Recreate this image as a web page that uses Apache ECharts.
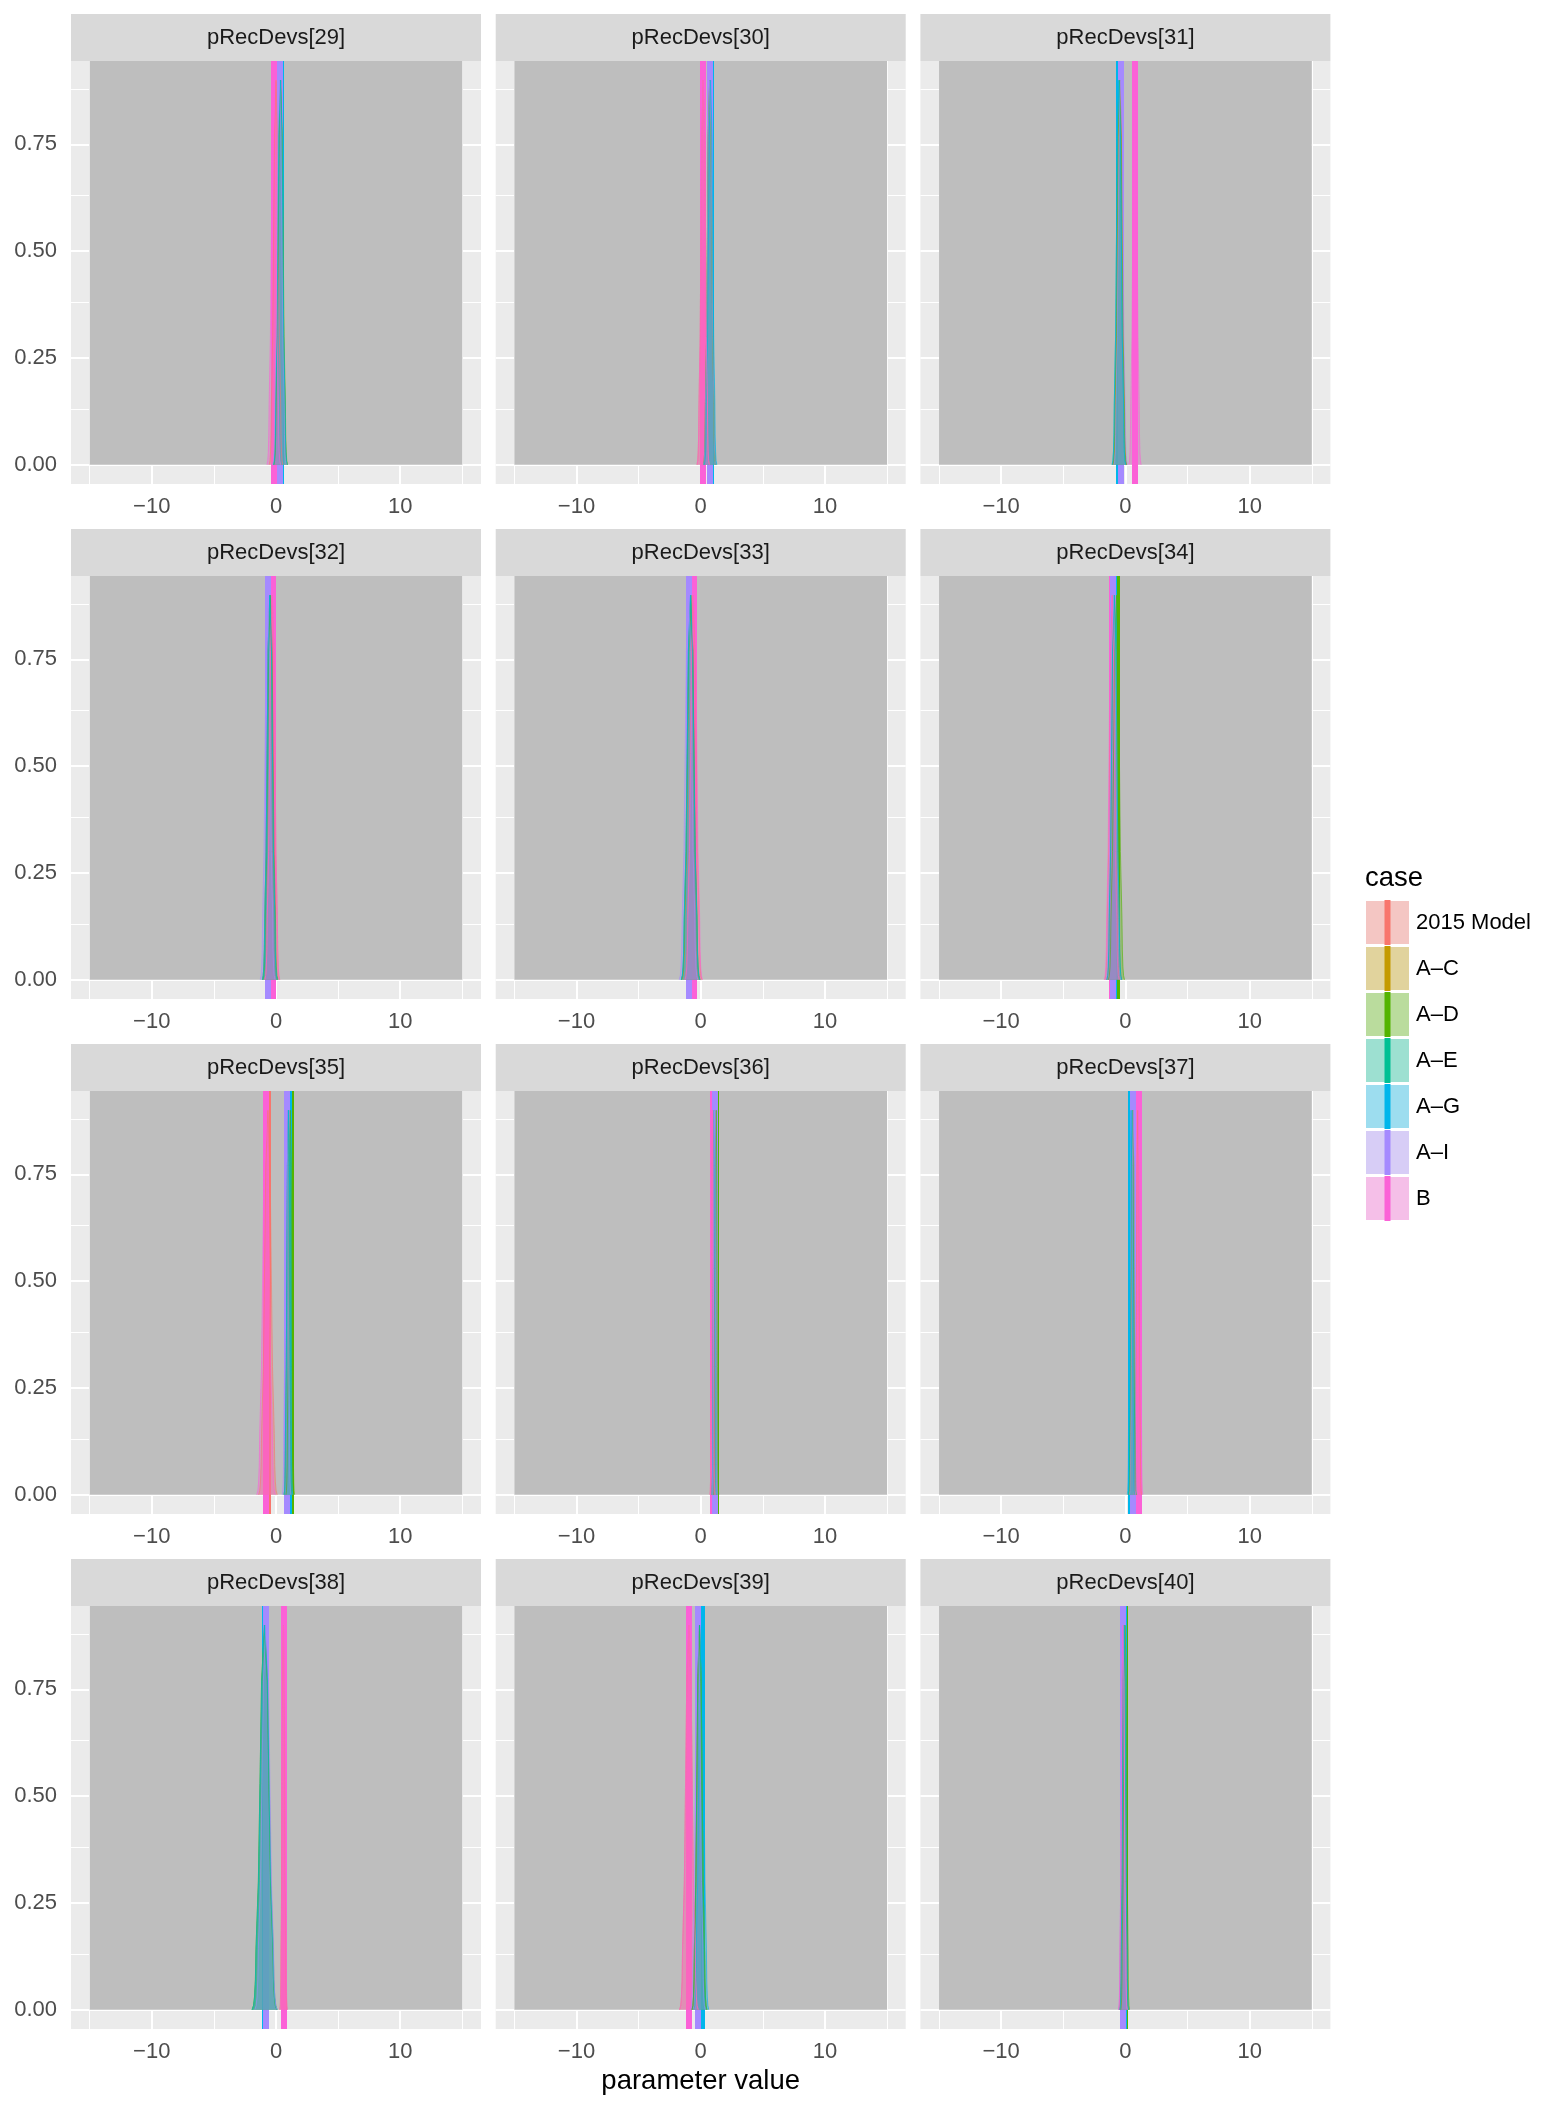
<!DOCTYPE html>
<html><head><meta charset="utf-8">
<script src="https://cdn.jsdelivr.net/npm/echarts@6/dist/echarts.min.js"></script>
<style>html,body{margin:0;padding:0;background:#fff}#c{width:1546px;height:2101px}</style>
</head><body><div id="c"></div>
<script>
// ---------- data ----------
const cases = ['2015 Model', 'A\u2013C', 'A\u2013D', 'A\u2013E', 'A\u2013G', 'A\u2013I', 'B'];
const caseColors = ['#F8766D', '#C49A00', '#53B400', '#00C094', '#00B6EB', '#A58AFF', '#FB61D7'];
const panelTitles = ['pRecDevs[29]', 'pRecDevs[30]', 'pRecDevs[31]', 'pRecDevs[32]', 'pRecDevs[33]', 'pRecDevs[34]',
  'pRecDevs[35]', 'pRecDevs[36]', 'pRecDevs[37]', 'pRecDevs[38]', 'pRecDevs[39]', 'pRecDevs[40]'];

// vertical line (point estimate) per case: 2015 Model, A-C, A-D, A-E, A-G, A-I, B
const vl29 = [0.0, 0.35, 0.38, 0.35, 0.35, 0.28, -0.18];
const vl30 = [0.2, 0.72, 0.72, 0.74, 0.8, 0.72, 0.2];
const vl31 = [-0.45, -0.45, -0.45, -0.52, -0.52, -0.39, 0.77];
const vl32 = [-0.3, -0.5, -0.45, -0.5, -0.5, -0.67, -0.3];
const vl33 = [-0.6, -0.8, -0.8, -0.82, -0.82, -0.98, -0.56];
const vl34 = [-1.05, -0.9, -0.72, -0.9, -0.9, -0.98, -1.1];
const vl35 = [-0.65, 1.0, 1.15, 1.0, 1.0, 0.86, -0.8];
const vl36 = [0.95, 1.1, 1.25, 1.1, 1.1, 1.11, 0.95];
const vl37 = [1.0, 0.6, 0.6, 0.55, 0.45, 0.63, 1.1];
const vl38 = [0.6, -0.9, -0.93, -0.93, -0.9, -0.81, 0.62];
const vl39 = [-0.95, -0.1, -0.1, -0.1, 0.05, -0.23, -0.95];
const vl40 = [-0.18, -0.1, -0.02, -0.1, -0.1, -0.2, -0.2];

// half-width of each density at its base (parameter units)
const hw29 = [0.55, 0.55, 0.55, 0.55, 0.55, 0.55, 0.55];
const hw30 = [0.5, 0.5, 0.5, 0.5, 0.5, 0.5, 0.5];
const hw31 = [0.55, 0.55, 0.55, 0.55, 0.55, 0.55, 0.5];
const hw32 = [0.6, 0.6, 0.6, 0.6, 0.6, 0.6, 0.6];
const hw33 = [0.7, 0.7, 0.75, 0.75, 0.75, 0.75, 0.7];
const hw34 = [0.6, 0.6, 0.65, 0.6, 0.6, 0.6, 0.6];
const hw35 = [0.75, 0.35, 0.35, 0.35, 0.35, 0.35, 0.75];
const hw36 = [0.2, 0.2, 0.2, 0.2, 0.2, 0.2, 0.2];
const hw37 = [0.3, 0.3, 0.3, 0.3, 0.3, 0.3, 0.3];
const hw38 = [0.3, 1.0, 1.0, 1.0, 1.0, 0.9, 0.3];
const hw39 = [0.75, 0.6, 0.6, 0.6, 0.6, 0.6, 0.75];
const hw40 = [0.35, 0.35, 0.35, 0.35, 0.35, 0.35, 0.35];

// shape of a density spike: height vs relative half-width
const densY = [0, 0.01, 0.03, 0.07, 0.144, 0.3, 0.53, 0.77, 0.9];
const densW = [1, 0.88, 0.8, 0.73, 0.68, 0.49, 0.36, 0.23, 0];

const priorRange = [-15, 15];
const xTicks = [-10, 0, 10];
const xTickLabels = ['\u221210', '0', '10'];
const xMinor = [-15, -5, 5, 15];
const yTicks = [0, 0.25, 0.5, 0.75];
const yTickLabels = ['0.00', '0.25', '0.50', '0.75'];
const yMinor = [0.125, 0.375, 0.625, 0.875];
const xLim = [-16.5, 16.5];
const yLim = [-0.045, 0.945];
// order in which the vertical lines are stacked (A-I ends on top)
const vlineDrawOrder = [0, 1, 2, 3, 4, 6, 5];

const vlineSets = [vl29, vl30, vl31, vl32, vl33, vl34, vl35, vl36, vl37, vl38, vl39, vl40];
const widthSets = [hw29, hw30, hw31, hw32, hw33, hw34, hw35, hw36, hw37, hw38, hw39, hw40];

// ---------- layout ----------
const FONT = '"Liberation Sans", Arial, Helvetica, sans-serif';
const colLeft = [71, 495.7, 920.4];
const rowTop = [61, 576, 1091, 1606];
const PW = 410, PH = 423, STRIP = 47;

const grids = [], xAxes = [], yAxes = [], series = [], graphics = [];

panelTitles.forEach((title, i) => {
  const r = Math.floor(i / 3), c = i % 3;
  const left = colLeft[c], top = rowTop[r];
  grids.push({ left: left, top: top, width: PW, height: PH, show: true, backgroundColor: '#EBEBEB',
    borderWidth: 0, containLabel: false, outerBoundsMode: 'none' });
  xAxes.push({ type: 'value', gridIndex: i, min: xLim[0], max: xLim[1],
    axisLine: { show: false }, splitLine: { show: false },
    axisTick: { show: true, length: 7, lineStyle: { color: '#333333', width: 2 }, customValues: xTicks },
    axisLabel: { show: true, customValues: xTicks, margin: 12, color: '#4D4D4D', fontSize: 22, fontFamily: FONT,
      formatter: v => xTickLabels[xTicks.indexOf(v)] } });
  yAxes.push({ type: 'value', gridIndex: i, min: yLim[0], max: yLim[1],
    axisLine: { show: false }, splitLine: { show: false },
    axisTick: { show: c === 0, length: 7, lineStyle: { color: '#333333', width: 2 }, customValues: yTicks },
    axisLabel: { show: c === 0, customValues: yTicks, margin: 14, color: '#4D4D4D', fontSize: 22, fontFamily: FONT,
      formatter: v => yTickLabels[yTicks.indexOf(v)] } });

  // grid lines
  const gl = [];
  xMinor.forEach(v => gl.push({ xAxis: v, lineStyle: { color: '#FFFFFF', width: 1, type: 'solid' } }));
  yMinor.forEach(v => gl.push({ yAxis: v, lineStyle: { color: '#FFFFFF', width: 1, type: 'solid' } }));
  xTicks.forEach(v => gl.push({ xAxis: v, lineStyle: { color: '#FFFFFF', width: 2, type: 'solid' } }));
  yTicks.forEach(v => gl.push({ yAxis: v, lineStyle: { color: '#FFFFFF', width: 2, type: 'solid' } }));
  series.push({ type: 'line', xAxisIndex: i, yAxisIndex: i, data: [], z: 1, silent: true,
    markLine: { z: 1, silent: true, symbol: ['none', 'none'], label: { show: false }, animation: false, data: gl } });

  // prior range rectangle
  series.push({ type: 'line', xAxisIndex: i, yAxisIndex: i, z: 2, silent: true, symbol: 'none',
    data: priorRange.map(x => [x, yLim[1]]),
    lineStyle: { width: 0 }, areaStyle: { color: '#BEBEBE', opacity: 1 } });

  // vertical lines
  const vl = vlineSets[i];
  series.push({ type: 'line', xAxisIndex: i, yAxisIndex: i, data: [], z: 3, silent: true,
    markLine: { z: 3, silent: true, symbol: ['none', 'none'], label: { show: false }, animation: false,
      data: vlineDrawOrder.map(k => ({ xAxis: vl[k], lineStyle: { color: caseColors[k], width: 6, type: 'solid', opacity: 1 } })) } });

  // densities
  const hw = widthSets[i];
  cases.forEach((name, k) => {
    const cx = vl[k], w = hw[k];
    const pts = [];
    for (let j = 0; j < densY.length; j++) pts.push([cx - w * densW[j], densY[j]]);
    for (let j = densY.length - 2; j >= 0; j--) pts.push([cx + w * densW[j], densY[j]]);
    series.push({ type: 'line', name: name, xAxisIndex: i, yAxisIndex: i, z: 4, silent: true, symbol: 'none',
      data: pts, lineStyle: { width: 1, color: caseColors[k], opacity: 0.6 },
      areaStyle: { color: caseColors[k], opacity: 0.33 } });
  });

  // strip
  graphics.push({ type: 'rect', shape: { x: left, y: top - STRIP, width: PW, height: STRIP },
    style: { fill: '#D9D9D9' }, silent: true });
  graphics.push({ type: 'text', x: left + PW / 2, y: top - STRIP / 2,
    style: { text: title, fill: '#1A1A1A', font: '22px ' + FONT, textAlign: 'center', textVerticalAlign: 'middle' }, silent: true });
});

// axis title
graphics.push({ type: 'text', x: 700.7, y: 2081,
  style: { text: 'parameter value', fill: '#000000', font: '27.5px ' + FONT, textAlign: 'center', textVerticalAlign: 'middle' } });

// legend
graphics.push({ type: 'text', x: 1365, y: 878,
  style: { text: 'case', fill: '#000000', font: '27.5px ' + FONT, textAlign: 'left', textVerticalAlign: 'middle' } });
cases.forEach((name, k) => {
  const ky = 901 + k * 46;
  graphics.push({ type: 'rect', shape: { x: 1366, y: ky, width: 43, height: 43 }, style: { fill: '#F2F2F2' } });
  graphics.push({ type: 'rect', shape: { x: 1366, y: ky, width: 43, height: 43 }, style: { fill: caseColors[k], opacity: 0.35 } });
  graphics.push({ type: 'rect', shape: { x: 1384.5, y: ky - 1, width: 6, height: 45 }, style: { fill: caseColors[k] } });
  graphics.push({ type: 'text', x: 1416, y: ky + 21.5,
    style: { text: name, fill: '#000000', font: '22px ' + FONT, textAlign: 'left', textVerticalAlign: 'middle' } });
});

const chart = echarts.init(document.getElementById('c'), null, { renderer: 'canvas' });
chart.setOption({
  animation: false,
  backgroundColor: '#FFFFFF',
  grid: grids, xAxis: xAxes, yAxis: yAxes, series: series, graphic: graphics
});
</script>
</body></html>
